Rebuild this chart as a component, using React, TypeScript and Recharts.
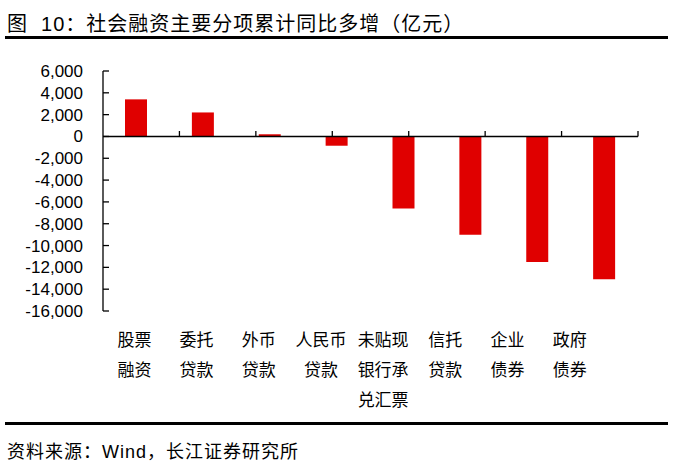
import { BarChart, Bar, XAxis, YAxis, ReferenceLine } from "recharts";

const categories = [
  "股票\n融资",
  "委托\n贷款",
  "外币\n贷款",
  "人民币\n贷款",
  "未贴现\n银行承\n兑汇票",
  "信托\n贷款",
  "企业\n债券",
  "政府\n债券",
];
const values = [3400, 2200, 200, -850, -6600, -9000, -11500, -13100];
const yTicks = [6000, 4000, 2000, 0, -2000, -4000, -6000, -8000, -10000, -12000, -14000, -16000];
const boundaries = [1, 2, 3, 4, 5, 6, 7, 8];

const data = categories.map((name, i) => ({ name, value: values[i] }));

const FONT = '"Liberation Sans", Arial, "Noto Sans CJK SC", sans-serif';

function CategoryTick(props: any) {
  const { x, y, payload, index } = props;
  const lines = String(payload.value).split("\n");
  const cx = x - 2 - index * 4.7;
  return (
    <text x={cx} y={y} textAnchor="middle" fontSize={17} fill="#000" fontFamily={FONT}>
      {lines.map((l, i) => (
        <tspan key={i} x={cx} dy={i === 0 ? 35 : 30}>
          {l}
        </tspan>
      ))}
    </text>
  );
}

export default function App() {
  return (
    <div
      style={{
        position: "absolute",
        left: 0,
        top: 0,
        width: 678,
        height: 469,
        background: "#fff",
        fontFamily: FONT,
      }}
    >
      <div
        style={{
          position: "absolute",
          left: 7,
          top: 8,
          fontSize: 20,
          letterSpacing: 1,
          color: "#000",
          whiteSpace: "pre",
        }}
      >
        {"图  10：社会融资主要分项累计同比多增（亿元）"}
      </div>
      <div style={{ position: "absolute", left: 5, top: 36, width: 663, height: 3, background: "#000" }} />

      <div style={{ position: "absolute", left: 0, top: 0 }}>
        <BarChart
          width={678}
          height={420}
          data={data}
          margin={{ top: 71, right: 40, bottom: 0, left: 0 }}
          barSize={22}
        >
          <XAxis
            dataKey="name"
            axisLine={false}
            tickLine={false}
            tickSize={0}
            tickMargin={0}
            interval={0}
            height={109}
            tick={<CategoryTick />}
          />
          <XAxis xAxisId="grid" type="number" domain={[0, 8]} allowDataOverflow hide />
          <YAxis
            width={103}
            domain={[-16000, 6000]}
            ticks={yTicks}
            interval={0}
            axisLine={{ stroke: "#000", strokeWidth: 1.3 }}
            tickLine={{ stroke: "#000", strokeWidth: 1.3 }}
            tickSize={-6}
            tickMargin={26}
            tick={{ fontSize: 17, fill: "#000", fontFamily: FONT }}
            tickFormatter={(v: number) => v.toLocaleString("en-US")}
          />
          <Bar dataKey="value" fill="#E00000" isAnimationActive={false} />
          <ReferenceLine y={0} stroke="#000" strokeWidth={1.5} />
          {boundaries.map((b) => (
            <ReferenceLine
              key={b}
              xAxisId="grid"
              segment={[
                { x: b, y: 0 },
                { x: b, y: 500 },
              ]}
              stroke="#000"
              strokeWidth={1.3}
            />
          ))}
        </BarChart>
      </div>

      <div style={{ position: "absolute", left: 5, top: 422, width: 663, height: 3, background: "#000" }} />
      <div
        style={{
          position: "absolute",
          left: 7,
          top: 437,
          fontSize: 18,
          letterSpacing: 1,
          color: "#000",
          whiteSpace: "nowrap",
        }}
      >
        资料来源：Wind，长江证券研究所
      </div>
    </div>
  );
}
